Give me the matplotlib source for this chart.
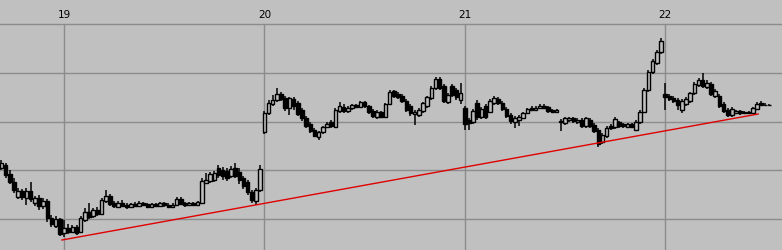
import matplotlib
matplotlib.use("Agg")
from matplotlib import pyplot as plt
import numpy as np

# 30-minute bars, four trading days (19..22) plus the tail of the 18th
day_labels = ["19", "20", "21", "22"]
day_start = [15, 63, 111, 159]

opens = [
    # 18th (tail)
    1051, 1054, 1045, 1037, 1022, 1028, 1021, 1028, 1016, 1021, 1013, 1018, 1001, 993, 1000,
    # 19
    986, 991, 987, 992, 987, 999, 1007, 1003, 1009, 1005, 1018, 1023, 1016, 1012, 1016, 1014,
    1012, 1015, 1013, 1016, 1015, 1012, 1015, 1013, 1016, 1014, 1012, 1014, 1020, 1016, 1014, 1016,
    1014, 1016, 1036, 1038, 1039, 1051, 1049, 1048, 1043, 1051, 1047, 1041, 1037, 1027, 1018, 1029,
    # 20
    1087, 1106, 1115, 1119, 1125, 1121, 1111, 1120, 1116, 1109, 1101, 1095, 1089, 1082, 1087, 1092,
    1097, 1092, 1108, 1112, 1108, 1111, 1114, 1112, 1117, 1113, 1108, 1102, 1107, 1102, 1115, 1128,
    1125, 1123, 1118, 1113, 1105, 1104, 1108, 1113, 1121, 1131, 1140, 1133, 1117, 1133, 1129, 1119,
    # 21
    1111, 1099, 1097, 1116, 1102, 1113, 1107, 1116, 1120, 1116, 1110, 1104, 1097, 1099, 1101, 1106,
    1111, 1109, 1111, 1113, 1112, 1109, 1107, 1098, 1096, 1099, 1101, 1097, 1099, 1093, 1099, 1094,
    1089, 1077, 1083, 1093, 1092, 1097, 1095, 1092, 1095, 1089, 1097, 1107, 1129, 1147, 1156, 1167,
    # 22
    1125, 1123, 1121, 1119, 1109, 1115, 1118, 1126, 1134, 1139, 1132, 1135, 1123, 1123, 1115, 1109,
    1104, 1106, 1108, 1106, 1107, 1106, 1110, 1116, 1114, 1114,
]
highs = [
    1059, 1056, 1049, 1041, 1031, 1030, 1031, 1037, 1023, 1024, 1021, 1020, 1004, 1003, 1001,
    999, 995, 994, 994, 1003, 1011, 1016, 1011, 1012, 1021, 1029, 1025, 1018, 1018, 1019, 1016,
    1016, 1017, 1018, 1017, 1016, 1016, 1016, 1017, 1017, 1016, 1016, 1022, 1022, 1017, 1017, 1017,
    1018, 1041, 1046, 1047, 1048, 1054, 1052, 1051, 1053, 1056, 1051, 1043, 1039, 1029, 1031, 1054,
    1108, 1119, 1124, 1131, 1127, 1123, 1122, 1122, 1118, 1111, 1103, 1097, 1091, 1088, 1093, 1097,
    1099, 1111, 1117, 1115, 1113, 1115, 1115, 1118, 1118, 1114, 1110, 1109, 1108, 1116, 1129, 1129,
    1127, 1125, 1120, 1115, 1109, 1111, 1117, 1123, 1133, 1142, 1142, 1135, 1126, 1135, 1131, 1136,
    1113, 1101, 1110, 1119, 1112, 1115, 1120, 1123, 1122, 1118, 1112, 1106, 1103, 1104, 1107, 1111,
    1113, 1113, 1115, 1115, 1113, 1110, 1110, 1100, 1102, 1102, 1102, 1101, 1101, 1102, 1101, 1096,
    1091, 1086, 1093, 1095, 1102, 1098, 1096, 1096, 1096, 1099, 1109, 1131, 1149, 1160, 1169, 1181,
    1136, 1125, 1123, 1121, 1120, 1122, 1127, 1137, 1141, 1146, 1139, 1137, 1130, 1125, 1117, 1111,
    1112, 1109, 1109, 1108, 1108, 1112, 1117, 1118, 1116, 1115,
]
lows = [
    1049, 1041, 1035, 1026, 1020, 1019, 1014, 1017, 1013, 1009, 1010, 997, 992, 991, 983,
    982, 985, 986, 984, 986, 997, 1000, 1001, 1003, 1004, 1016, 1013, 1011, 1011, 1012, 1010,
    1011, 1012, 1012, 1013, 1011, 1011, 1012, 1012, 1012, 1011, 1011, 1013, 1014, 1012, 1013, 1013,
    1013, 1015, 1035, 1036, 1037, 1041, 1039, 1038, 1041, 1041, 1035, 1030, 1024, 1016, 1014, 1027,
    1085, 1104, 1113, 1117, 1118, 1108, 1104, 1109, 1103, 1098, 1091, 1086, 1082, 1079, 1085, 1091,
    1091, 1091, 1106, 1106, 1106, 1109, 1111, 1111, 1111, 1105, 1101, 1100, 1101, 1101, 1114, 1121,
    1120, 1116, 1107, 1103, 1094, 1102, 1106, 1111, 1119, 1129, 1129, 1116, 1115, 1122, 1119, 1115,
    1089, 1089, 1095, 1099, 1100, 1100, 1106, 1114, 1114, 1108, 1101, 1095, 1091, 1093, 1100, 1105,
    1108, 1108, 1110, 1110, 1106, 1106, 1106, 1088, 1094, 1097, 1096, 1095, 1091, 1091, 1091, 1086,
    1072, 1075, 1081, 1089, 1090, 1091, 1091, 1091, 1091, 1088, 1095, 1106, 1127, 1145, 1154, 1165,
    1109, 1118, 1116, 1109, 1106, 1113, 1116, 1124, 1132, 1131, 1130, 1123, 1121, 1111, 1106, 1102,
    1102, 1105, 1104, 1105, 1105, 1105, 1109, 1113, 1113, 1113,
]
closes = [
    1056, 1044, 1037, 1029, 1028, 1022, 1028, 1020, 1021, 1013, 1018, 1001, 995, 1000, 985,
    991, 987, 992, 986, 1001, 1007, 1002, 1009, 1005, 1019, 1023, 1015, 1013, 1016, 1013, 1012,
    1015, 1013, 1016, 1014, 1012, 1015, 1013, 1016, 1014, 1012, 1014, 1020, 1015, 1014, 1016, 1014,
    1017, 1038, 1039, 1045, 1046, 1044, 1043, 1041, 1050, 1043, 1039, 1033, 1027, 1019, 1029, 1050,
    1106, 1116, 1119, 1125, 1120, 1111, 1121, 1113, 1105, 1101, 1093, 1088, 1083, 1087, 1092, 1095,
    1093, 1109, 1113, 1108, 1111, 1114, 1112, 1117, 1113, 1107, 1103, 1107, 1102, 1115, 1127, 1123,
    1122, 1118, 1109, 1106, 1107, 1109, 1116, 1122, 1131, 1140, 1131, 1118, 1124, 1124, 1122, 1126,
    1095, 1096, 1108, 1102, 1110, 1102, 1118, 1121, 1116, 1110, 1103, 1098, 1101, 1102, 1106, 1110,
    1109, 1111, 1113, 1111, 1108, 1107, 1109, 1097, 1101, 1101, 1098, 1099, 1093, 1101, 1093, 1088,
    1075, 1084, 1091, 1091, 1100, 1093, 1093, 1095, 1092, 1097, 1107, 1129, 1147, 1158, 1167, 1178,
    1122, 1120, 1118, 1114, 1118, 1120, 1126, 1135, 1139, 1133, 1136, 1125, 1128, 1113, 1108, 1104,
    1110, 1108, 1106, 1107, 1106, 1111, 1115, 1114, 1114, 1114,
]

# support line drawn by hand on the chart (bar index, price)
trend_x = [14.5, 181.3]
trend_y = [979, 1105]

bg = "#c0c0c0"
grid_col = "#8c8c8c"

o = np.array(opens)
h = np.array(highs)
l = np.array(lows)
c = np.array(closes)
x = np.arange(len(c))
up = c >= o

fig = plt.figure(figsize=(7.82, 2.5), dpi=100, facecolor=bg)
ax = fig.add_axes([0, 0, 1, 226 / 250])
ax.set_facecolor(bg)

ax.set_xlim(-0.33, 187.0)
ax.set_ylim(969, 1195)

for d in day_start:
    ax.axvline(d, color=grid_col, lw=1, zorder=1)
for g in [1000, 1048.75, 1097.5, 1146.25]:
    ax.axhline(g, color=grid_col, lw=1, zorder=1)

# wicks then bodies
ax.vlines(x, l, h, color="black", lw=1.1, zorder=2)
ax.bar(x[up], c[up] - o[up], bottom=o[up], width=0.85, facecolor=bg,
       edgecolor="black", linewidth=1.0, zorder=3)
ax.bar(x[~up], o[~up] - c[~up], bottom=c[~up], width=0.85, facecolor="black",
       edgecolor="black", linewidth=1.0, zorder=3)

ax.plot(trend_x, trend_y, color="#e00000", lw=1, zorder=4)

for s in ["left", "right", "bottom"]:
    ax.spines[s].set_visible(False)
ax.spines["top"].set_color(grid_col)
ax.spines["top"].set_linewidth(1)

ax.xaxis.tick_top()
ax.set_xticks(day_start)
ax.set_xticklabels(day_labels, fontsize=7.5, color="black")
ax.tick_params(axis="x", length=0, pad=3)
ax.set_yticks([])

plt.savefig("out.png", dpi=100, facecolor=bg)
